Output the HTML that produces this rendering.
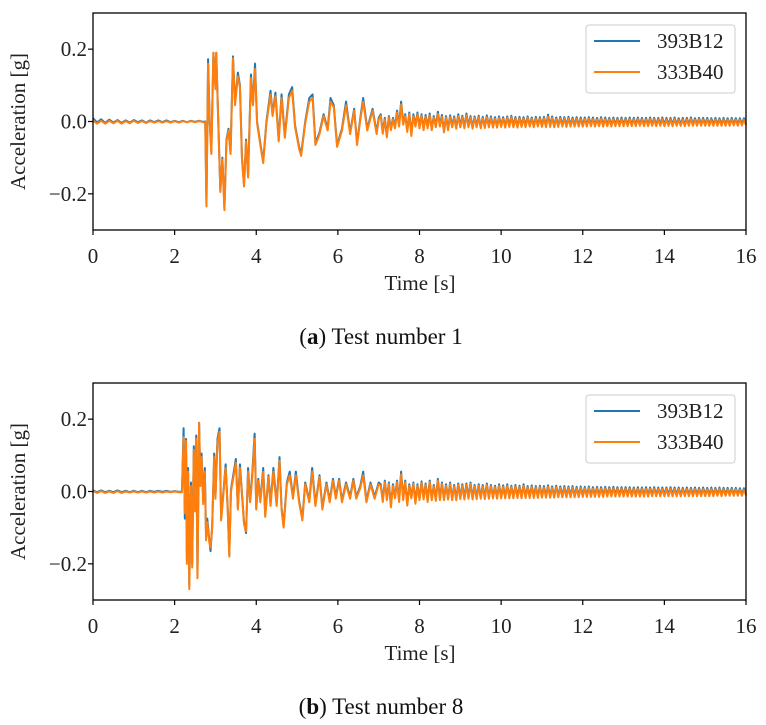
<!DOCTYPE html>
<html><head><meta charset="utf-8"><style>
body{margin:0;background:#fff;}
svg{display:block;font-family:"Liberation Serif",serif;}
</style></head><body>
<svg id="fig" width="766" height="725" viewBox="0 0 766 725"></svg>
<script>
// ---- shared tick labels ----
const xTicks = [0,2,4,6,8,10,12,14,16];
const yTicks = [-0.2,0.0,0.2];
const yTickLabels = ["\u22120.2","0.0","0.2"];
const seriesNames = ["393B12","333B40"];

// ---- Test 1 data (0 - 7 s) ----
const t1 = [0,0.1,0.2,0.3,0.4,0.5,0.6,0.7,0.8,0.9,1.0,1.1,1.2,1.3,1.4,1.5,1.6,1.7,1.8,1.9,2.0,2.1,2.2,2.3,2.4,2.5,2.6,2.7,
2.75,2.78,2.82,2.86,2.9,2.95,3.0,3.02,3.07,3.12,3.17,3.22,3.27,3.32,3.37,3.43,3.48,3.55,3.6,3.65,3.7,3.75,3.8,3.87,3.92,3.97,4.02,4.1,4.17,4.25,4.35,4.4,4.47,4.55,4.62,4.7,4.8,4.88,4.95,5.05,5.1,5.2,5.3,5.38,5.45,5.55,5.65,5.75,5.82,5.9,5.98,6.1,6.2,6.3,6.4,6.47,6.55,6.62,6.72,6.85,6.95,7.0];
const a1Blue = [0.009,-0.003,0.006,-0.004,0.005,-0.003,0.004,-0.004,0.003,-0.003,0.004,-0.002,0.003,-0.003,0.003,-0.002,0.003,-0.002,0.003,-0.002,0.002,-0.002,0.002,-0.002,0.002,-0.001,0.002,-0.001,
0.0,-0.23,0.172,0.0,-0.085,0.19,0.10,0.19,0.0,-0.19,-0.10,-0.24,-0.05,-0.02,-0.085,0.18,0.05,0.135,0.10,-0.10,-0.175,-0.05,-0.15,0.13,0.05,0.16,0.0,-0.06,-0.11,0.0,0.085,0.02,0.08,-0.05,0.075,-0.04,0.075,0.095,-0.01,-0.07,-0.09,0.0,0.065,0.075,-0.06,-0.03,0.02,-0.02,0.065,0.045,-0.065,-0.02,0.055,-0.03,0.035,-0.06,0.01,0.065,-0.02,0.035,-0.03,0.01];
const a1Orange = [0.003,-0.006,0.002,-0.006,0.002,-0.005,0.002,-0.006,0.001,-0.005,0.002,-0.004,0.001,-0.004,0.001,-0.003,0.001,-0.003,0.001,-0.003,0.001,-0.003,0.001,-0.002,0.001,-0.002,0.001,-0.002,
-0.002,-0.235,0.16,-0.005,-0.09,0.19,0.09,0.19,-0.005,-0.195,-0.105,-0.245,-0.055,-0.025,-0.09,0.175,0.045,0.125,0.095,-0.105,-0.18,-0.055,-0.155,0.12,0.045,0.145,-0.005,-0.065,-0.115,-0.005,0.075,0.015,0.07,-0.055,0.065,-0.045,0.065,0.085,-0.015,-0.075,-0.095,-0.005,0.055,0.065,-0.065,-0.035,0.015,-0.025,0.055,0.04,-0.07,-0.025,0.045,-0.035,0.03,-0.065,0.005,0.055,-0.025,0.03,-0.035,0.005];

// ---- tail time samples (7.05 - 16 s), shared ----
const tailT = [7.05,7.1,7.15,7.2,7.25,7.3,7.35,7.4,7.45,7.5,7.55,7.6,7.65,7.7,7.75,7.8,7.85,7.9,7.95,8.0,
8.05,8.1,8.15,8.2,8.25,8.3,8.35,8.4,8.45,8.5,8.55,8.6,8.65,8.7,8.75,8.8,8.85,8.9,8.95,9.0,
9.05,9.1,9.15,9.2,9.25,9.3,9.35,9.4,9.45,9.5,9.55,9.6,9.65,9.7,9.75,9.8,9.85,9.9,9.95,10.0,
10.05,10.1,10.15,10.2,10.25,10.3,10.35,10.4,10.45,10.5,10.55,10.6,10.65,10.7,10.75,10.8,10.85,10.9,10.95,11.0,
11.05,11.1,11.15,11.2,11.25,11.3,11.35,11.4,11.45,11.5,11.55,11.6,11.65,11.7,11.75,11.8,11.85,11.9,11.95,12.0,
12.05,12.1,12.15,12.2,12.25,12.3,12.35,12.4,12.45,12.5,12.55,12.6,12.65,12.7,12.75,12.8,12.85,12.9,12.95,13.0,
13.05,13.1,13.15,13.2,13.25,13.3,13.35,13.4,13.45,13.5,13.55,13.6,13.65,13.7,13.75,13.8,13.85,13.9,13.95,14.0,
14.05,14.1,14.15,14.2,14.25,14.3,14.35,14.4,14.45,14.5,14.55,14.6,14.65,14.7,14.75,14.8,14.85,14.9,14.95,15.0,
15.05,15.1,15.15,15.2,15.25,15.3,15.35,15.4,15.45,15.5,15.55,15.6,15.65,15.7,15.75,15.8,15.85,15.9,15.95,16.0];
const tail1Blue = [.02,-.03,.01,-.04,.015,-.02,.01,-.015,.03,-.01,.055,-.005,.02,-.025,.025,-.035,.02,-.01,.025,-.015,
.02,-.02,.018,-.015,.022,-.02,.015,-.012,.027,-.01,.018,-.026,.015,-.02,.017,-.012,.014,-.016,.02,-.012,
.016,-.015,.022,-.012,.015,-.016,.014,-.012,.016,-.015,.013,-.014,.017,-.012,.014,-.013,.012,-.013,.014,-.011,
.012,-.013,.014,-.011,.016,-.012,.012,-.013,.013,-.011,.012,-.012,.014,-.01,.011,-.012,.013,-.01,.012,-.011,
.013,-.012,.019,-.011,.014,-.012,.011,-.011,.013,-.01,.012,-.011,.013,-.01,.011,-.01,.012,-.01,.011,-.01,
.011,-.01,.012,-.009,.011,-.01,.01,-.009,.012,-.01,.011,-.009,.01,-.01,.011,-.009,.01,-.009,.011,-.009,
.01,-.009,.011,-.009,.01,-.009,.011,-.008,.01,-.009,.01,-.009,.011,-.008,.01,-.009,.01,-.008,.011,-.009,
.01,-.008,.01,-.009,.011,-.008,.009,-.008,.01,-.009,.01,-.008,.011,-.008,.009,-.008,.01,-.008,.01,-.008,
.01,-.008,.009,-.008,.01,-.008,.009,-.008,.01,-.008,.009,-.008,.01,-.007,.009,-.008,.009,-.007,.009,-.006];
const tail1Orange = [.016,-.034,.006,-.044,.011,-.024,.006,-.019,.025,-.014,.047,-.009,.016,-.029,.02,-.04,.015,-.014,.02,-.019,
.016,-.024,.013,-.019,.017,-.024,.011,-.016,.021,-.014,.013,-.03,.011,-.024,.012,-.016,.01,-.02,.015,-.016,
.012,-.019,.017,-.016,.011,-.02,.01,-.016,.012,-.019,.009,-.018,.012,-.016,.01,-.017,.008,-.017,.01,-.015,
.008,-.017,.01,-.015,.012,-.016,.008,-.017,.009,-.015,.008,-.016,.01,-.014,.007,-.016,.009,-.014,.008,-.015,
.009,-.016,.014,-.015,.01,-.016,.007,-.015,.009,-.014,.008,-.015,.009,-.014,.007,-.014,.008,-.014,.007,-.014,
.007,-.014,.008,-.013,.007,-.014,.006,-.013,.008,-.014,.007,-.013,.006,-.014,.007,-.013,.006,-.013,.007,-.013,
.006,-.013,.007,-.013,.006,-.013,.007,-.012,.006,-.013,.006,-.013,.007,-.012,.006,-.013,.006,-.012,.007,-.013,
.006,-.012,.006,-.013,.007,-.012,.005,-.012,.006,-.013,.006,-.012,.007,-.012,.005,-.012,.006,-.012,.006,-.012,
.006,-.012,.005,-.012,.006,-.012,.005,-.012,.006,-.012,.005,-.012,.006,-.011,.005,-.012,.005,-.011,.005,-.01];

// ---- Test 8 data (0 - 7 s) ----
const t8 = [0,0.1,0.2,0.3,0.4,0.5,0.6,0.7,0.8,0.9,1.0,1.1,1.2,1.3,1.4,1.5,1.6,1.7,1.8,1.9,2.0,2.1,2.18,
2.22,2.25,2.28,2.3,2.33,2.36,2.4,2.43,2.47,2.5,2.53,2.56,2.6,2.63,2.66,2.7,2.74,2.77,2.8,2.85,2.88,2.92,2.97,3.0,3.05,3.1,3.14,3.2,3.25,3.3,3.34,3.38,3.45,3.5,3.55,3.6,3.65,3.7,3.75,3.8,3.85,3.9,3.96,4.0,4.05,4.1,4.17,4.22,4.3,4.35,4.42,4.5,4.57,4.62,4.67,4.75,4.82,4.9,4.97,5.05,5.13,5.2,5.3,5.37,5.45,5.55,5.62,5.72,5.8,5.88,5.95,6.03,6.1,6.2,6.3,6.38,6.45,6.55,6.62,6.7,6.8,6.9,7.0];
const a8Blue = [0.003,-0.002,0.003,-0.002,0.002,-0.002,0.003,-0.002,0.002,-0.002,0.002,-0.002,0.002,-0.002,0.002,-0.001,0.002,-0.001,0.002,-0.001,0.001,-0.001,0.0,
0.175,-0.075,0.145,-0.19,0.065,-0.26,0.025,-0.2,0.125,-0.045,0.155,-0.23,0.19,0.025,0.105,-0.025,0.065,-0.125,-0.075,-0.135,-0.165,-0.095,0.105,-0.015,0.145,0.175,-0.075,0.005,0.075,-0.045,-0.175,0.005,0.055,0.09,-0.045,0.075,-0.005,-0.085,-0.115,0.065,-0.025,0.045,0.16,-0.045,0.035,-0.025,0.065,-0.065,0.045,-0.035,0.065,-0.035,0.095,-0.045,-0.095,0.025,0.055,-0.015,0.055,-0.025,-0.075,0.025,-0.025,0.065,-0.035,0.045,-0.045,0.025,-0.025,0.035,-0.015,0.035,-0.025,0.025,-0.015,0.035,-0.015,0.015,0.055,-0.025,0.025,-0.015,0.025];
const a8Orange = [0.001,-0.004,0.001,-0.004,0.0,-0.004,0.001,-0.004,0.0,-0.003,0.0,-0.003,0.0,-0.003,0.0,-0.003,0.0,-0.003,0.0,-0.002,0.0,-0.002,-0.002,
0.15,-0.06,0.14,-0.2,0.055,-0.27,0.015,-0.21,0.115,-0.055,0.145,-0.24,0.19,0.015,0.095,-0.035,0.055,-0.135,-0.085,-0.14,-0.155,-0.1,0.095,-0.02,0.135,0.165,-0.08,0.0,0.065,-0.05,-0.18,0.0,0.045,0.08,-0.05,0.065,-0.01,-0.09,-0.11,0.055,-0.03,0.035,0.145,-0.05,0.03,-0.03,0.055,-0.07,0.04,-0.04,0.055,-0.04,0.085,-0.05,-0.1,0.02,0.045,-0.02,0.045,-0.03,-0.08,0.02,-0.03,0.055,-0.04,0.04,-0.05,0.02,-0.03,0.03,-0.02,0.03,-0.03,0.02,-0.02,0.03,-0.02,0.01,0.045,-0.03,0.02,-0.02,0.02];
const tail8Blue = [.02,-.025,.03,-.02,.025,-.04,.02,-.015,.03,-.025,.055,-.02,.03,-.035,.02,-.015,.025,-.03,.02,-.02,
.028,-.018,.022,-.025,.03,-.02,.018,-.022,.035,-.02,.025,-.02,.02,-.018,.025,-.02,.018,-.02,.022,-.017,
.02,-.018,.022,-.016,.025,-.018,.018,-.017,.02,-.016,.018,-.017,.022,-.016,.018,-.015,.016,-.016,.02,-.015,
.017,-.015,.02,-.015,.016,-.015,.018,-.014,.016,-.015,.02,-.014,.015,-.014,.017,-.014,.015,-.014,.016,-.013,
.015,-.013,.017,-.013,.014,-.013,.016,-.012,.014,-.012,.015,-.012,.014,-.012,.015,-.012,.013,-.012,.014,-.011,
.013,-.011,.014,-.011,.012,-.011,.013,-.011,.012,-.011,.013,-.01,.012,-.01,.013,-.01,.012,-.01,.012,-.01,
.012,-.01,.012,-.01,.011,-.01,.012,-.01,.011,-.01,.012,-.01,.011,-.009,.012,-.009,.011,-.009,.011,-.009,
.011,-.009,.012,-.009,.011,-.009,.011,-.009,.01,-.009,.011,-.009,.01,-.009,.011,-.009,.01,-.009,.011,-.009,
.01,-.009,.011,-.009,.01,-.008,.011,-.009,.01,-.008,.01,-.008,.01,-.008,.01,-.008,.009,-.008,.009,-.007];
const tail8Orange = [.016,-.029,.026,-.024,.021,-.044,.016,-.019,.026,-.029,.047,-.024,.026,-.039,.016,-.019,.021,-.034,.016,-.024,
.024,-.022,.018,-.029,.026,-.024,.014,-.026,.03,-.024,.021,-.024,.016,-.022,.021,-.024,.014,-.024,.018,-.021,
.016,-.022,.018,-.02,.021,-.022,.014,-.021,.016,-.02,.014,-.021,.018,-.02,.014,-.019,.012,-.02,.016,-.019,
.013,-.019,.016,-.019,.012,-.019,.014,-.018,.012,-.019,.016,-.018,.011,-.018,.013,-.018,.011,-.018,.012,-.017,
.011,-.017,.013,-.017,.01,-.017,.012,-.016,.01,-.016,.011,-.016,.01,-.016,.011,-.016,.009,-.016,.01,-.015,
.009,-.015,.01,-.015,.008,-.015,.009,-.015,.008,-.015,.009,-.014,.008,-.014,.009,-.014,.008,-.014,.008,-.014,
.008,-.014,.008,-.014,.007,-.014,.008,-.014,.007,-.014,.008,-.014,.007,-.013,.008,-.013,.007,-.013,.007,-.013,
.007,-.013,.008,-.013,.007,-.013,.007,-.013,.006,-.013,.007,-.013,.006,-.013,.007,-.013,.006,-.013,.007,-.013,
.006,-.013,.007,-.013,.006,-.012,.007,-.013,.006,-.012,.006,-.012,.006,-.012,.006,-.012,.005,-.012,.005,-.011];

const NS='http://www.w3.org/2000/svg';
const svg=document.getElementById('fig');
function mk(tag,attrs,parent){const e=document.createElementNS(NS,tag);for(const k in attrs)e.setAttribute(k,attrs[k]);(parent||svg).appendChild(e);return e;}

function panel(off, t, blue, orange, capLetter, capText, id){
  const L=93,R=746,T=13+off,B=230+off;
  const xs=v=>L+(v-0)/(16-0)*(R-L);
  const ys=v=>B-(v-(-0.3))/(0.6)*(B-T);
  const g=mk('g',{});
  
  
  const plot=mk('g',{},g);
  
  
  function line(arrT,arrV,color,name){
    let d='';
    for(let i=0;i<arrT.length;i++){d+=(i?'L':'M')+xs(arrT[i]).toFixed(2)+','+ys(arrV[i]).toFixed(2);}
    const p=mk('path',{d:d,fill:'none',stroke:color,'stroke-width':2,'stroke-linejoin':'round'},plot);
    
    
  }
  line(t,blue,'#1f77b4','series-393b12-'+id);
  line(t,orange,'#ff7f0e','series-333b40-'+id);
  const fr=mk('rect',{x:L,y:T,width:R-L,height:B-T,fill:'none',stroke:'#000','stroke-width':1.3},g);
  
  
  xTicks.forEach(v=>{
    const x=xs(v);
    mk('line',{x1:x,y1:B,x2:x,y2:B+5,stroke:'#000','stroke-width':1.2},g);
    const tx=mk('text',{x:x,y:B+33,'font-size':21,'text-anchor':'middle',fill:'#222'},g);
    tx.textContent=String(v);
    
    
  });
  yTicks.forEach((v,i)=>{
    const y=ys(v);
    mk('line',{x1:L-5,y1:y,x2:L,y2:y,stroke:'#000','stroke-width':1.2},g);
    const tx=mk('text',{x:L-6,y:y+7,'font-size':21,'text-anchor':'end',fill:'#222'},g);
    tx.textContent=yTickLabels[i];
    
    
  });
  const xt=mk('text',{x:420,y:B+60,'font-size':21,'text-anchor':'middle',fill:'#222'},g);
  xt.textContent='Time [s]';
  
  
  const yt=mk('text',{x:0,y:0,'font-size':21,'text-anchor':'middle',fill:'#222',transform:'translate(25,'+((T+B)/2)+') rotate(-90)'},g);
  yt.textContent='Acceleration [g]';
  
  
  const lg=mk('g',{},g);
  
  
  mk('rect',{x:586,y:25+off,width:149,height:68,rx:3,fill:'#fff',stroke:'#ccc','stroke-width':1},lg);
  const cols=['#1f77b4','#ff7f0e'];
  seriesNames.forEach((n,i)=>{
    const y=41+off+i*31;
    const e=mk('g',{},lg);
    
    
    mk('line',{x1:594,y1:y,x2:640,y2:y,stroke:cols[i],'stroke-width':2},e);
    const tx=mk('text',{x:657,y:y+7,'font-size':21,fill:'#222'},e);
    tx.textContent=n;
  });
  const cap=mk('text',{x:381,y:B+114,'font-size':23,'text-anchor':'middle',fill:'#111'},g);
  
  
  const b1=mk('tspan',{},cap);b1.textContent='(';
  const b2=mk('tspan',{'font-weight':'bold'},cap);b2.textContent=capLetter;
  const b3=mk('tspan',{},cap);b3.textContent=') '+capText;
}
panel(0,t1.concat(tailT),a1Blue.concat(tail1Blue),a1Orange.concat(tail1Orange),'a','Test number 1','test1');
panel(370,t8.concat(tailT),a8Blue.concat(tail8Blue),a8Orange.concat(tail8Orange),'b','Test number 8','test8');
</script>
</body></html>
